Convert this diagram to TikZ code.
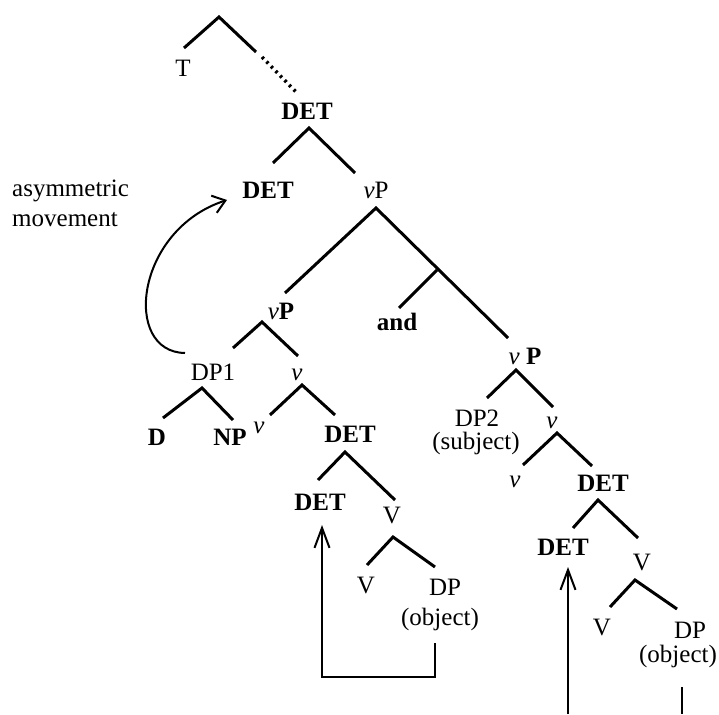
\documentclass[tikz,border=0pt]{standalone}
\usepackage{fontspec}
\setmainfont{Liberation Serif}
\usetikzlibrary{arrows.meta}
\begin{document}
\begin{tikzpicture}[x=1pt,y=-1pt,
  lab/.style={inner sep=0pt, font=\fontsize{25}{28}\selectfont},
  blab/.style={inner sep=0pt, font=\fontsize{25}{28}\selectfont\bfseries},
  branch/.style={line width=3pt},
  mv/.style={line width=2pt, -{Straight Barb[length=20pt,width=15pt]}},
  mvc/.style={line width=2pt, -{Straight Barb[length=12pt,width=18pt]}}]
\useasboundingbox (0,0) rectangle (719,714);
% labels
\node[lab]  (T)    at (183,68)  {T};
\node[blab] (det0) at (307,111) {DET};
\node[blab] (det1) at (268,190) {DET};
\node[lab]  (vp1)  at (376,190) {\textit{ν}P};
\node[lab]  (vp2)  at (281,311) {\textit{ν}\textbf{P}};
\node[blab] (and)  at (397,322) {and};
\node[lab]  (vp3)  at (525,356) {\textit{ν} \textbf{P}};
\node[lab]  (dp1)  at (213,372) {DP1};
\node[lab]  (v1)   at (297,375) {\textit{ν}};
\node[blab] (d)    at (157,437) {D};
\node[blab] (np)   at (230,437) {NP};
\node[lab]  (v2)   at (259,428) {\textit{ν}};
\node[blab] (det2) at (350,434) {DET};
\node[lab]  (dp2)  at (477,418) {DP2};
\node[lab]  (subj) at (476,443) {(subject)};
\node[lab]  (v3)   at (552,423) {\textit{ν}};
\node[lab]  (v4)   at (515,482) {\textit{ν}};
\node[blab] (det3) at (603,483) {DET};
\node[blab] (det4) at (320,502) {DET};
\node[lab]  (V1)   at (392,515) {V};
\node[lab]  (V2)   at (366,585) {V};
\node[lab]  (dp3)  at (445,587) {DP};
\node[lab]  (obj1) at (440,619) {(object)};
\node[blab] (det5) at (563,547) {DET};
\node[lab]  (V3)   at (642,562) {V};
\node[lab]  (V4)   at (602,627) {V};
\node[lab]  (dp4)  at (690,630) {DP};
\node[lab]  (obj2) at (678,656) {(object)};
\node[lab, anchor=west] (asym) at (12,191) {asymmetric};
\node[lab, anchor=west] (move) at (12,220) {movement};
% branch points
\coordinate (a0) at (219,17);  \coordinate (a0l) at (184,48); \coordinate (a0r) at (256,52);
\coordinate (ds) at (262,57);  \coordinate (de) at (297,93);
\coordinate (a1) at (309,128); \coordinate (a1l) at (273,163); \coordinate (a1r) at (355,173);
\coordinate (a2) at (376,208); \coordinate (a2l) at (285,293); \coordinate (a2r) at (508,338);
\coordinate (aj) at (437,270); \coordinate (ajl) at (399,308);
\coordinate (a3) at (262,322); \coordinate (a3l) at (233,348); \coordinate (a3r) at (298,356);
\coordinate (a4) at (202,388); \coordinate (a4l) at (163,418); \coordinate (a4r) at (233,420);
\coordinate (a5) at (302,385); \coordinate (a5l) at (270,415); \coordinate (a5r) at (335,415);
\coordinate (a6) at (516,370); \coordinate (a6l) at (487,398); \coordinate (a6r) at (553,407);
\coordinate (a7) at (557,433); \coordinate (a7l) at (523,465); \coordinate (a7r) at (592,466);
\coordinate (a8) at (345,452); \coordinate (a8l) at (318,480); \coordinate (a8r) at (395,500);
\coordinate (a9) at (393,537); \coordinate (a9l) at (367,565); \coordinate (a9r) at (435,567);
\coordinate (b0) at (598,500); \coordinate (b0l) at (573,528); \coordinate (b0r) at (638,538);
\coordinate (b1) at (635,580); \coordinate (b1l) at (610,607); \coordinate (b1r) at (677,609);
% branches
\draw[branch] (a0l) -- (a0) -- (a0r);
\draw[line width=3.5pt, dash pattern=on 2.5pt off 4pt] (ds) -- (de);
\foreach \p in {a1,a2,a3,a4,a5,a6,a7,a8,a9,b0,b1}
  \draw[branch] (\p l) -- (\p) -- (\p r);
\draw[branch] (aj) -- (ajl);
% movement arrows
\coordinate (m1s) at (185,353); \coordinate (m1e) at (227,200);
\draw[mvc] (m1s) .. controls (122,352) and (135,230) .. (m1e);
\coordinate (m2s) at (435,643); \coordinate (m2b) at (435,677);
\coordinate (m2c) at (322,677); \coordinate (m2e) at (322,525);
\draw[mv] (m2s) -- (m2b) -- (m2c) -- (m2e);
\coordinate (m3s) at (568,714); \coordinate (m3e) at (568,567);
\draw[mv] (m3s) -- (m3e);
\coordinate (m4s) at (682,687); \coordinate (m4e) at (682,714);
\draw[line width=2pt] (m4s) -- (m4e);
\end{tikzpicture}
\end{document}
